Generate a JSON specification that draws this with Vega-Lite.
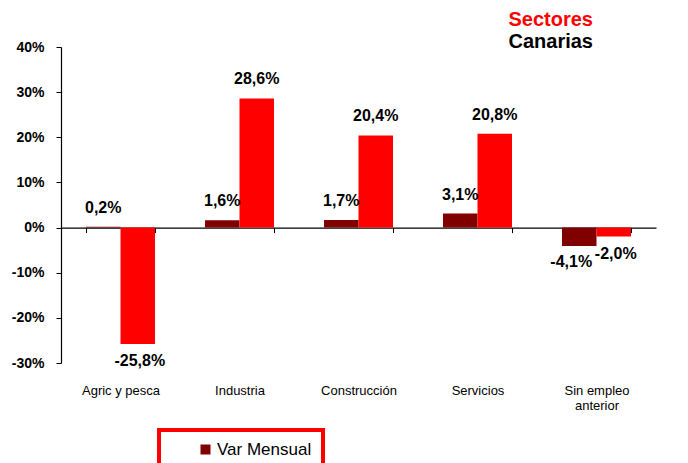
{
  "$schema": "https://vega.github.io/schema/vega-lite/v6.json",
  "autosize": "none",
  "width": 595,
  "height": 316,
  "padding": {"left": 61, "top": 47, "right": 32, "bottom": 100},
  "background": "white",
  "title": {
    "text": "Sectores",
    "subtitle": "Canarias",
    "anchor": "end",
    "dx": -63,
    "offset": -12,
    "font": "Liberation Sans",
    "fontSize": 20,
    "fontWeight": "bold",
    "color": "#FF0000",
    "subtitleFont": "Liberation Sans",
    "subtitleFontSize": 20,
    "subtitleFontWeight": "bold",
    "subtitleColor": "#000000",
    "subtitlePadding": 2
  },
  "config": {
    "view": {"stroke": null},
    "font": "Liberation Sans"
  },
  "data": {
    "values": [
      {"sector": "Agric y pesca", "serie": "Var Mensual", "valor": 0.2},
      {"sector": "Agric y pesca", "serie": "Var Anual", "valor": -25.8},
      {"sector": "Industria", "serie": "Var Mensual", "valor": 1.6},
      {"sector": "Industria", "serie": "Var Anual", "valor": 28.6},
      {"sector": "Construcción", "serie": "Var Mensual", "valor": 1.7},
      {"sector": "Construcción", "serie": "Var Anual", "valor": 20.4},
      {"sector": "Servicios", "serie": "Var Mensual", "valor": 3.1},
      {"sector": "Servicios", "serie": "Var Anual", "valor": 20.8},
      {"sector": "Sin empleo anterior", "serie": "Var Mensual", "valor": -4.1},
      {"sector": "Sin empleo anterior", "serie": "Var Anual", "valor": -2.0}
    ]
  },
  "transform": [
    {"calculate": "replace(replace(format(datum.valor, '.1f'), '.', ','), '−', '-') + '%'", "as": "etiqueta"}
  ],
  "encoding": {
    "x": {
      "field": "sector",
      "type": "nominal",
      "sort": null,
      "scale": {"paddingInner": 0.42, "paddingOuter": 0.21},
      "axis": {
        "title": null,
        "orient": "bottom",
        "offset": -135.4,
        "domain": true,
        "domainColor": "#000000",
        "domainWidth": 1.2,
        "ticks": true,
        "tickBand": "extent",
        "tickSize": 5,
        "tickColor": "#000000",
        "labelAngle": 0,
        "labelPadding": 152,
        "labelFontSize": 13,
        "labelColor": "#000000",
        "labelFont": "Liberation Sans",
        "labelLineHeight": 15,
        "labelExpr": "datum.label == 'Sin empleo anterior' ? ['Sin empleo', 'anterior'] : datum.label"
      }
    },
    "y": {
      "field": "valor",
      "type": "quantitative",
      "scale": {"domain": [-30, 40], "nice": false, "zero": false},
      "axis": {
        "title": null,
        "values": [-30, -20, -10, 0, 10, 20, 30, 40],
        "labelExpr": "datum.value + '%'",
        "grid": false,
        "domainColor": "#000000",
        "domainWidth": 1.2,
        "tickColor": "#000000",
        "tickSize": 5,
        "labelPadding": 12,
        "labelFontSize": 14,
        "labelFontWeight": "bold",
        "labelColor": "#000000",
        "labelFont": "Liberation Sans"
      }
    }
  },
  "layer": [
    {
      "mark": {"type": "bar"},
      "encoding": {
        "xOffset": {
          "field": "serie",
          "type": "nominal",
          "sort": ["Var Mensual", "Var Anual"],
          "scale": {"paddingInner": 0, "paddingOuter": 0}
        },
        "color": {
          "field": "serie",
          "type": "nominal",
          "scale": {"domain": ["Var Mensual", "Var Anual"], "range": ["#800000", "#FF0000"]},
          "legend": {
            "values": ["Var Mensual"],
            "title": null,
            "orient": "none",
            "legendX": 98,
            "legendY": 383,
            "symbolType": "square",
            "symbolSize": 100,
            "symbolStrokeWidth": 0,
            "symbolOffset": 27,
            "labelOffset": 3,
            "labelFontSize": 17,
            "labelColor": "#000000",
            "labelFont": "Liberation Sans",
            "strokeColor": "#FF0000",
            "padding": 11,
            "encode": {"legend": {"update": {"strokeWidth": {"value": 4}}}}
          }
        }
      }
    },
    {
      "transform": [{"filter": "datum.valor >= 0"}],
      "mark": {"type": "text", "baseline": "bottom", "dy": -11, "fontSize": 16, "fontWeight": "bold", "font": "Liberation Sans", "color": "#000000"},
      "encoding": {
        "xOffset": {"field": "serie", "type": "nominal", "sort": ["Var Mensual", "Var Anual"]},
        "text": {"field": "etiqueta", "type": "nominal"}
      }
    },
    {
      "transform": [{"filter": "datum.valor < 0 && datum.serie == 'Var Anual'"}],
      "mark": {"type": "text", "baseline": "top", "dy": 9, "dx": 2, "fontSize": 16, "fontWeight": "bold", "font": "Liberation Sans", "color": "#000000"},
      "encoding": {
        "xOffset": {"field": "serie", "type": "nominal", "sort": ["Var Mensual", "Var Anual"]},
        "text": {"field": "etiqueta", "type": "nominal"}
      }
    },
    {
      "transform": [{"filter": "datum.valor < 0 && datum.serie == 'Var Mensual'"}],
      "mark": {"type": "text", "baseline": "top", "dy": 8, "dx": -8, "fontSize": 16, "fontWeight": "bold", "font": "Liberation Sans", "color": "#000000"},
      "encoding": {
        "xOffset": {"field": "serie", "type": "nominal", "sort": ["Var Mensual", "Var Anual"]},
        "text": {"field": "etiqueta", "type": "nominal"}
      }
    }
  ]
}
